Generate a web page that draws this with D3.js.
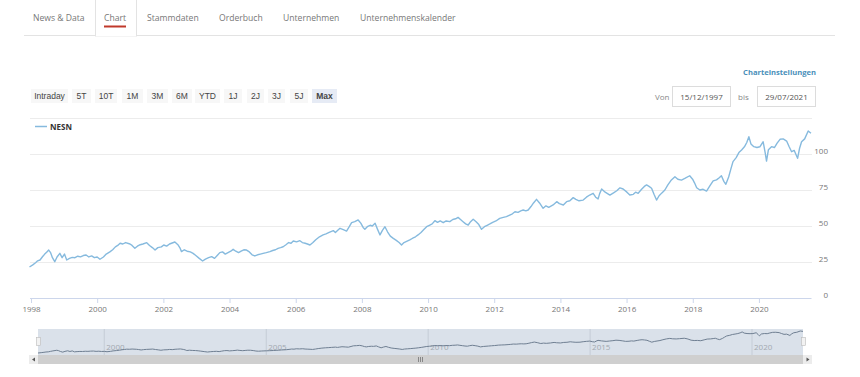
<!DOCTYPE html>
<html lang="de">
<head>
<meta charset="UTF-8">
<script src="https://cdnjs.cloudflare.com/ajax/libs/d3/7.8.5/d3.min.js"></script>
<title>NESN Chart</title>
<style>
  html, body { margin: 0; padding: 0; background: #fff; }
  body { width: 860px; height: 377px; overflow: hidden; font-family: "Open Sans", sans-serif; }
  svg { display: block; }
</style>
</head>
<body>
<svg id="chart" width="860" height="377"></svg>
<script>
// tabs and range buttons
var tabs = ["News & Data", "Chart", "Stammdaten", "Orderbuch", "Unternehmen", "Unternehmenskalender"];
var ranges = ["Intraday", "5T", "10T", "1M", "3M", "6M", "YTD", "1J", "2J", "3J", "5J", "Max"];
var fromDate = "15/12/1997", toDate = "29/07/2021";
var seriesName = "NESN";
var yTicks = [0, 25, 50, 75, 100];
var yGrid = [25, 50, 75, 100, 125];

// NESN price
var dates = [
"1997-12-15","1998-01-20","1998-02-20","1998-03-15","1998-04-10","1998-05-05","1998-06-01","1998-06-25","1998-07-15","1998-08-05",
"1998-08-25","1998-09-20","1998-10-15","1998-11-15","1998-12-10","1999-01-05","1999-01-30","1999-03-01","1999-04-01","1999-05-01",
"1999-06-01","1999-07-01","1999-08-01","1999-09-01","1999-10-01","1999-11-01","1999-12-01","2000-01-01","2000-02-01","2000-03-10",
"2000-04-10","2000-05-20","2000-06-20","2000-07-20","2000-08-15","2000-09-10","2000-10-10","2000-11-10","2000-12-28","2001-01-20",
"2001-02-20","2001-03-20","2001-04-20","2001-05-20","2001-07-01","2001-08-01","2001-09-01","2001-10-01","2001-11-01","2001-12-10",
"2002-01-05","2002-02-06","2002-03-10","2002-04-08","2002-05-08","2002-06-10","2002-07-01","2002-07-20","2002-08-20","2002-09-20",
"2002-10-25","2002-11-25","2002-12-25","2003-02-01","2003-03-10","2003-04-10","2003-05-15","2003-06-18","2003-07-20","2003-08-18",
"2003-09-16","2003-10-16","2003-11-15","2003-12-15","2004-01-15","2004-02-10","2004-03-10","2004-04-10","2004-05-08","2004-06-07",
"2004-07-07","2004-08-07","2004-09-06","2004-10-06","2004-11-06","2004-12-06","2005-01-06","2005-02-10","2005-03-22","2005-04-22",
"2005-05-22","2005-06-20","2005-07-18","2005-08-15","2005-09-15","2005-10-15","2005-11-10","2005-12-05","2006-01-10","2006-02-16",
"2006-03-15","2006-04-15","2006-05-10","2006-06-07","2006-07-10","2006-08-10","2006-09-20","2006-10-30","2006-12-01","2007-01-05",
"2007-02-20","2007-03-15","2007-04-10","2007-05-05","2007-06-10","2007-07-16","2007-08-15","2007-09-10","2007-10-15","2007-11-21",
"2007-12-20","2008-01-15","2008-02-03","2008-03-01","2008-04-01","2008-04-25","2008-05-26","2008-06-20","2008-07-19","2008-08-15",
"2008-09-12","2008-10-10","2008-11-10","2008-12-13","2009-01-15","2009-02-15","2009-03-14","2009-04-10","2009-05-15","2009-06-13",
"2009-07-15","2009-08-15","2009-09-12","2009-10-15","2009-11-15","2009-12-16","2010-01-15","2010-02-15","2010-03-17","2010-04-15",
"2010-05-15","2010-06-17","2010-07-20","2010-08-29","2010-10-01","2010-11-01","2010-11-28","2010-12-25","2011-01-22","2011-02-20",
"2011-03-20","2011-04-15","2011-05-14","2011-06-15","2011-07-15","2011-08-14","2011-09-15","2011-10-15","2011-11-14","2011-12-15",
"2012-01-20","2012-03-02","2012-04-10","2012-05-15","2012-06-20","2012-07-20","2012-08-17","2012-09-20","2012-10-20","2012-11-16",
"2012-12-15","2013-01-10","2013-02-10","2013-03-10","2013-04-12","2013-05-15","2013-06-24","2013-07-25","2013-08-25","2013-10-12",
"2013-11-21","2013-12-20","2014-02-02","2014-03-10","2014-04-15","2014-05-22","2014-06-20","2014-07-25","2014-09-09","2014-10-15",
"2014-11-20","2014-12-28","2015-01-25","2015-02-21","2015-03-10","2015-04-01","2015-05-10","2015-07-01","2015-08-10","2015-09-15",
"2015-10-20","2015-11-24","2016-01-05","2016-02-06","2016-03-15","2016-04-10","2016-05-08","2016-06-15","2016-07-15","2016-08-09",
"2016-09-05","2016-10-03","2016-10-30","2016-11-27","2016-12-25","2017-01-25","2017-02-27","2017-04-01","2017-05-10","2017-06-18",
"2017-07-20","2017-08-29","2017-10-05","2017-11-28","2017-12-30","2018-01-20","2018-02-13","2018-03-20","2018-04-25","2018-06-02",
"2018-07-10","2018-08-14","2018-09-20","2018-10-20","2018-11-13","2018-12-10","2019-01-01","2019-02-01","2019-02-25","2019-03-21",
"2019-04-25","2019-05-25","2019-06-24","2019-07-25","2019-08-20","2019-09-12","2019-10-05","2019-11-06","2019-12-10","2020-01-11",
"2020-02-17","2020-03-10","2020-03-25","2020-04-15","2020-05-19","2020-06-20","2020-07-20","2020-08-21","2020-09-25","2020-11-02",
"2020-11-30","2020-12-27","2021-01-25","2021-03-03","2021-03-25","2021-04-16","2021-05-20","2021-06-28","2021-07-29"
];
var prices = [
21.5,23.0,24.5,25.8,26.4,28.5,30.5,32.0,33.3,31.5,
28.0,25.2,28.5,31.0,28.0,30.5,26.4,27.5,28.2,28.0,
29.0,28.6,29.5,29.9,28.5,29.2,28.0,28.5,26.9,28.5,
30.5,32.0,33.5,35.5,36.5,38.0,37.5,38.5,37.5,36.5,
34.5,36.0,37.0,37.5,38.4,36.5,35.0,33.3,35.0,35.5,
36.8,36.0,37.5,38.2,38.9,37.0,35.0,32.2,33.5,32.5,
32.0,31.0,29.5,27.5,25.7,27.0,28.0,28.7,27.5,29.5,
31.5,32.0,30.5,31.5,32.5,33.8,32.5,31.5,32.5,33.5,
33.3,32.0,30.0,29.2,30.0,30.5,31.0,31.5,32.2,33.0,
33.5,34.5,35.0,35.6,37.0,38.5,38.0,39.6,39.0,39.8,
38.5,38.0,37.5,36.8,38.5,40.5,42.5,43.8,44.5,45.5,
46.8,45.5,47.0,48.4,47.5,46.5,49.5,52.3,53.0,54.2,
52.0,49.0,47.7,49.5,50.5,50.0,51.9,48.0,43.8,47.0,
49.5,46.0,43.0,41.4,40.0,38.5,36.8,38.5,39.5,40.3,
41.5,42.5,43.8,45.5,47.5,49.5,50.5,51.5,53.7,52.5,
53.5,52.3,53.5,53.0,54.5,55.0,56.0,54.5,53.0,51.5,
50.7,53.0,54.7,53.0,51.0,47.7,49.5,50.5,51.4,52.5,
53.5,55.3,56.0,56.5,57.6,58.5,59.9,59.5,60.5,61.1,
60.5,61.1,63.5,66.0,68.5,66.0,62.3,64.0,63.0,64.6,
66.9,65.5,64.6,66.9,67.5,69.7,68.5,67.5,68.0,70.0,
71.5,72.7,70.0,68.8,72.5,75.7,73.5,71.5,73.0,74.5,
76.5,75.7,73.5,71.5,72.0,73.5,72.7,75.5,77.5,78.5,
77.5,76.2,72.0,68.0,71.0,73.0,75.0,78.5,82.0,84.2,
82.5,81.9,83.0,84.9,82.5,80.0,76.6,75.0,75.5,74.3,
78.0,81.3,82.0,83.5,84.9,81.0,79.0,84.0,89.5,94.7,
97.5,101.0,102.8,105.0,108.0,112.0,107.0,105.1,104.5,105.0,
108.5,101.0,95.1,103.0,105.1,104.5,107.5,110.2,110.5,109.0,
105.0,101.6,102.5,97.0,104.0,108.5,110.5,116.0,114.4
];
var navYears = ["2000", "2005", "2010", "2015", "2020"];

var parse = d3.timeParse("%Y-%m-%d");
var data = dates.map(function(d, i) { return {date: parse(d), value: prices[i]}; });

var svg = d3.select("#chart");
var font = "'Open Sans', sans-serif";

// ---- tab bar
var tabX = [33, 104, 147, 219, 283, 360];
svg.append("line").attr("x1", 24).attr("x2", 835).attr("y1", 35.5).attr("y2", 35.5)
  .attr("stroke", "#e3e3e3");
svg.append("rect").attr("x", 95.5).attr("y", -1).attr("width", 41).attr("height", 37)
  .attr("fill", "#fff").attr("stroke", "#e3e3e3");
svg.append("line").attr("x1", 96).attr("x2", 136).attr("y1", 35.5).attr("y2", 35.5)
  .attr("stroke", "#fff").attr("stroke-width", 1.5);
svg.selectAll(".tab").data(tabs).enter().append("text")
  .attr("x", (d, i) => tabX[i]).attr("y", 20.5)
  .style("font-family", font).style("font-size", "8.6px").style("fill", "#777")
  .text(d => d);
svg.append("line").attr("x1", 104).attr("x2", 126).attr("y1", 26.5).attr("y2", 26.5)
  .attr("stroke", "#c0392b").attr("stroke-width", 2);

// ---- range buttons
var btnX = [31, 72, 95, 122, 147, 172, 195, 224, 247, 268, 290, 312];
var btnW = [37, 19, 22, 21, 21, 20, 25, 18, 17, 17, 18, 25];
var btns = svg.selectAll(".btn").data(ranges).enter().append("g")
  .attr("transform", (d, i) => "translate(" + btnX[i] + ",89)");
btns.append("rect").attr("width", (d, i) => btnW[i]).attr("height", 14)
  .attr("fill", (d, i) => d == "Max" ? "#e6ebf5" : "#f7f7f7");
btns.append("text").attr("x", (d, i) => btnW[i] / 2).attr("y", 10)
  .attr("text-anchor", "middle")
  .style("font-family", "'Liberation Sans', Arial, sans-serif").style("font-size", "8.5px")
  .style("fill", "#444").style("font-weight", d => d == "Max" ? "bold" : "normal")
  .text(d => d);

// ---- right header
svg.append("text").attr("x", 816).attr("y", 75).attr("text-anchor", "end")
  .style("font-family", font).style("font-size", "7.6px").style("font-weight", "bold")
  .style("fill", "#4a8fba").text("Charteinstellungen");
svg.append("text").attr("x", 655).attr("y", 100)
  .style("font-family", font).style("font-size", "8px").style("fill", "#888").text("Von");
svg.append("text").attr("x", 738).attr("y", 100)
  .style("font-family", font).style("font-size", "8px").style("fill", "#888").text("bis");
[[672.5, fromDate], [757.5, toDate]].forEach(function(b) {
  svg.append("rect").attr("x", b[0]).attr("y", 86.5).attr("width", 58).attr("height", 20)
    .attr("fill", "#fff").attr("stroke", "#dcdcdc");
  svg.append("text").attr("x", b[0] + 29).attr("y", 100).attr("text-anchor", "middle")
    .style("font-family", font).style("font-size", "8px").style("fill", "#555").text(b[1]);
});

// ---- main plot
var x = d3.scaleTime()
  .domain([parse("1997-12-15"), parse("2021-07-29")])
  .range([29.5, 811]);
var y = d3.scaleLinear().domain([0, 125]).range([298, 118]);

svg.append("g").attr("transform", "translate(30,0)")
  .call(d3.axisRight(y).tickValues(yGrid).tickSize(782).tickFormat(""))
  .call(g => g.select(".domain").remove())
  .call(g => g.selectAll("line").attr("stroke", "#ececec"));

svg.append("g").attr("transform", "translate(830,0)")
  .call(d3.axisLeft(y).tickValues(yTicks).tickSize(0).tickPadding(2))
  .call(g => g.select(".domain").remove())
  .call(g => g.selectAll("text").attr("dy", "-0.12em")
    .style("font-family", font).style("font-size", "8px").style("fill", "#777"));

var xAxis = svg.append("g").attr("transform", "translate(0,298)")
  .call(d3.axisBottom(x).ticks(d3.timeYear.every(2)).tickFormat(d3.timeFormat("%Y"))
    .tickSize(5).tickSizeOuter(0).tickPadding(3));
xAxis.select(".domain").attr("stroke", "#ccd6eb");
xAxis.selectAll("line").attr("stroke", "#ccd6eb");
xAxis.selectAll("text").style("font-family", font).style("font-size", "8px").style("fill", "#777");

var line = d3.line().x(d => x(d.date)).y(d => y(d.value));
svg.append("path").datum(data).attr("d", line)
  .attr("fill", "none").attr("stroke", "#86bade").attr("stroke-width", 1.4)
  .attr("stroke-linejoin", "round");

// legend
svg.append("line").attr("x1", 35).attr("x2", 47).attr("y1", 126.5).attr("y2", 126.5)
  .attr("stroke", "#86bade").attr("stroke-width", 1.5);
svg.append("text").attr("x", 50).attr("y", 129.5)
  .style("font-family", font).style("font-size", "8px").style("font-weight", "bold")
  .style("fill", "#333").text(seriesName);

// ---- navigator
var nx = d3.scaleTime().domain(x.domain()).range([38, 803]);
var ny = d3.scaleLinear().domain(d3.extent(prices)).range([353, 331]);
svg.append("rect").attr("x", 38).attr("y", 329).attr("width", 765).attr("height", 26)
  .attr("fill", "#dae1ea");
var navG = svg.selectAll(".nav").data(navYears).enter().append("g")
  .attr("transform", d => "translate(" + nx(d3.timeParse("%Y")(d)) + ",0)");
navG.append("line").attr("y1", 329).attr("y2", 355).attr("stroke", "#c5ccd6");
navG.append("text").attr("x", 2).attr("y", 350)
  .style("font-family", font).style("font-size", "8px").style("fill", "#a3a9b0").text(d => d);
svg.append("path").datum(data)
  .attr("d", d3.line().x(d => nx(d.date)).y(d => ny(d.value)))
  .attr("fill", "none").attr("stroke", "#6f7f92").attr("stroke-width", 1);
// handles
[36, 801].forEach(function(hx) {
  svg.append("rect").attr("x", hx + 0.5).attr("y", 337.5).attr("width", 4).attr("height", 8)
    .attr("fill", "#f2f2f2").attr("stroke", "#bbb").attr("stroke-width", 0.6);
});

// scrollbar
svg.append("rect").attr("x", 29).attr("y", 355).attr("width", 783).attr("height", 9).attr("fill", "#cfcfcf");
[[29, "M35,357.5 L32,359.5 L35,361.5 Z"], [803, "M806.5,357.5 L809.5,359.5 L806.5,361.5 Z"]].forEach(function(b) {
  svg.append("rect").attr("x", b[0]).attr("y", 355).attr("width", 9).attr("height", 9).attr("fill", "#ececec");
  svg.append("path").attr("d", b[1]).attr("fill", "#555");
});
[-2, 0, 2].forEach(function(o) {
  svg.append("line").attr("x1", 420.5 + o).attr("x2", 420.5 + o).attr("y1", 357).attr("y2", 362)
    .attr("stroke", "#555").attr("stroke-width", 0.6);
});
</script>
</body>
</html>
